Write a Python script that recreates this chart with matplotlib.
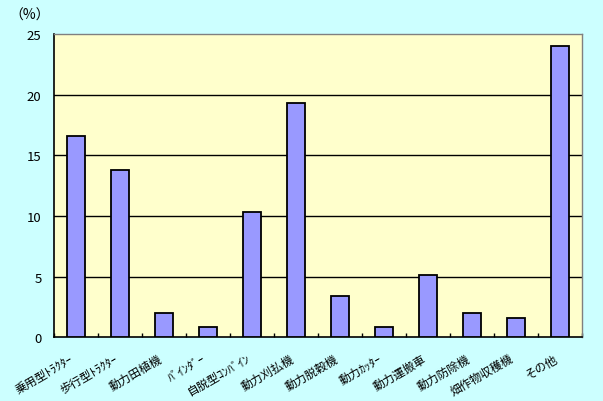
import matplotlib
matplotlib.use("Agg")
import matplotlib.pyplot as plt
import numpy as np

plt.rcParams['font.family'] = ['Noto Sans CJK JP', 'DejaVu Sans']

# 機種別の割合 (%)
categories = ['乗用型ﾄﾗｸﾀｰ', '歩行型ﾄﾗｸﾀｰ', '動力田植機', 'ﾊﾞｲﾝﾀﾞｰ', '自脱型ｺﾝﾊﾞｲﾝ',
              '動力刈払機', '動力脱穀機', '動力ｶｯﾀｰ', '動力運搬車', '動力防除機',
              '畑作物収穫機', 'その他']
values = [16.6, 13.8, 2.0, 0.8, 10.3, 19.3, 3.4, 0.8, 5.1, 2.0, 1.6, 24.0]
yticks = [0, 5, 10, 15, 20, 25]

fig = plt.figure(figsize=(6.03, 4.02), dpi=100, facecolor='#CCFFFF')
ax = fig.add_axes([0.0896, 0.159, 0.8756, 0.753])
ax.set_facecolor('#FFFFCC')

x = np.arange(len(categories))
ax.bar(x, values, width=0.41, color='#9999FF', edgecolor='black', linewidth=1.3, zorder=3)

ax.set_xlim(-0.5, len(categories) - 0.5)
ax.set_ylim(0, 25)
ax.set_yticks(yticks)
ax.set_yticklabels([str(v) for v in yticks], fontsize=9.5)
for v in yticks[1:-1]:
    ax.axhline(v, color='black', linewidth=1, zorder=1)

# 目盛り: 項目の境目に内向き
ax.set_xticks(np.arange(len(categories) + 1) - 0.5)
ax.set_xticklabels([])
ax.tick_params(axis='x', direction='in', length=3, width=1, color='black')
ax.tick_params(axis='y', length=0, pad=9)
for i, lab in enumerate(categories):
    ax.text(i - 0.15, -1.2, lab, rotation=30, ha='right', va='top',
            rotation_mode='anchor', fontsize=8.5, clip_on=False)

for s in ['left', 'bottom']:
    ax.spines[s].set_color('black')
    ax.spines[s].set_linewidth(1.2)
for s in ['top', 'right']:
    ax.spines[s].set_color('#808080')
    ax.spines[s].set_linewidth(1)

fig.text(0.015, 0.962, '（%）', fontsize=10, ha='left', va='center')

fig.savefig('out.png', dpi=100, facecolor=fig.get_facecolor())
